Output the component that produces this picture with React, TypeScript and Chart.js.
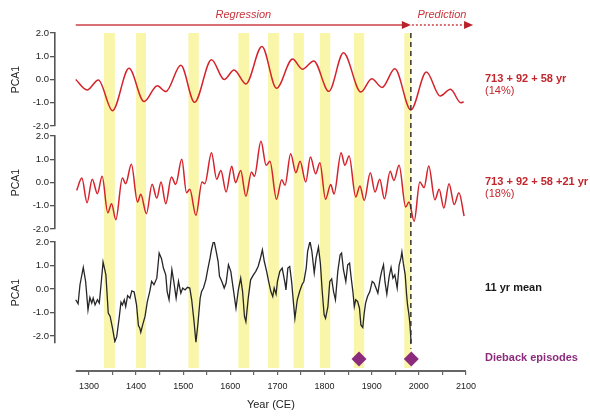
import React, { useEffect, useRef } from 'react';
import { Chart, registerables } from 'chart.js';

Chart.register(...registerables);

const FONT = "'Liberation Sans', Arial, Helvetica, sans-serif";

// ---- Data -----------------------------------------------------------------
// Panel 1: 713 + 92 + 58 yr harmonic reconstruction (extrema)
const harmonicYears = [1272, 1296, 1320, 1350, 1385, 1417, 1445, 1463, 1495, 1524, 1560, 1587, 1608, 1633, 1667, 1698, 1732, 1753, 1777, 1809, 1840, 1877, 1900, 1922, 1949, 1983, 2016, 2045, 2067, 2089, 2095];
const harmonicValues = [0.0, -0.45, -0.02, -1.34, 0.48, -0.95, -0.27, -0.52, 0.61, -0.98, 0.85, 0.0, 0.41, -0.19, 1.42, -0.38, 0.88, 0.44, 0.8, -0.51, 1.15, -0.54, 0.03, -0.34, 0.46, -1.31, 0.32, -0.71, -0.42, -1.0, -0.96];

// Panel 2: 713 + 92 + 58 + 21 yr
const harmonic21Years = [1274, 1285, 1296, 1307, 1318, 1328, 1340, 1348, 1357, 1371, 1378, 1390, 1403, 1410, 1422, 1434, 1444, 1453, 1463, 1475, 1484, 1497, 1507, 1514, 1527, 1540, 1546, 1560, 1571, 1580, 1591, 1603, 1611, 1622, 1633, 1645, 1651, 1665, 1676, 1684, 1698, 1709, 1716, 1728, 1739, 1748, 1760, 1770, 1781, 1790, 1802, 1813, 1820, 1835, 1843, 1852, 1866, 1875, 1884, 1897, 1907, 1917, 1927, 1939, 1947, 1958, 1972, 1979, 1990, 2002, 2011, 2021, 2034, 2043, 2053, 2064, 2075, 2085, 2096];
const harmonic21Values = [-0.34, 0.19, -0.87, 0.14, -0.48, 0.27, -1.3, -0.91, -1.6, 0.19, -0.05, 0.78, -0.84, -0.51, -1.34, -0.08, -0.67, 0.02, -0.91, 0.24, -0.08, 1.0, -0.44, -0.29, -1.41, 0.02, -0.05, 1.28, 0.14, 0.52, -0.41, 0.7, -0.01, 0.52, -0.59, 0.45, 0.27, 1.77, 0.74, 0.91, -0.72, 0.12, -0.12, 1.24, 0.42, 0.91, 0.02, 1.1, 0.38, 0.85, -0.72, -0.09, -0.49, 1.28, 0.74, 1.14, -0.62, -0.15, -0.77, 0.42, -0.41, 0.14, -0.7, 0.48, 0.09, 0.74, -1.05, -0.84, -1.67, 0.02, -0.22, 0.71, -0.74, -0.29, -1.1, -0.05, -0.95, -0.44, -1.44];

// Panel 3: 11 yr running mean
const meanYears = [1272, 1277, 1281, 1288, 1293, 1298, 1302, 1306, 1309, 1313, 1318, 1322, 1325, 1330, 1336, 1341, 1345, 1350, 1355, 1359, 1364, 1368, 1371, 1375, 1378, 1382, 1387, 1391, 1396, 1401, 1405, 1408, 1410, 1414, 1419, 1424, 1429, 1433, 1438, 1444, 1449, 1454, 1458, 1463, 1466, 1470, 1476, 1480, 1485, 1490, 1495, 1499, 1504, 1509, 1514, 1518, 1523, 1527, 1531, 1536, 1539, 1543, 1548, 1552, 1557, 1560, 1565, 1570, 1574, 1577, 1582, 1587, 1591, 1596, 1601, 1606, 1612, 1617, 1622, 1626, 1630, 1633, 1638, 1643, 1649, 1654, 1659, 1664, 1668, 1672, 1677, 1681, 1686, 1690, 1693, 1697, 1700, 1705, 1710, 1716, 1718, 1722, 1726, 1730, 1734, 1737, 1742, 1747, 1752, 1756, 1761, 1764, 1769, 1773, 1778, 1782, 1787, 1791, 1795, 1799, 1802, 1807, 1811, 1815, 1819, 1823, 1828, 1833, 1836, 1840, 1845, 1849, 1853, 1856, 1860, 1863, 1866, 1870, 1874, 1877, 1881, 1884, 1887, 1891, 1896, 1901, 1905, 1909, 1913, 1918, 1921, 1925, 1928, 1932, 1937, 1941, 1945, 1949, 1954, 1958, 1962, 1964, 1967, 1971, 1974, 1976, 1979, 1981, 1983, 1984];
const meanValues = [-0.46, -0.63, 0.18, 0.92, 0.32, -0.89, -0.36, -0.6, -0.39, -0.68, -0.46, -0.6, 0.04, 1.15, 0.6, -1.03, -1.17, -1.67, -2.24, -2.03, -1.25, -0.56, -0.68, -0.46, -0.75, -0.28, -0.39, -0.08, -0.13, -0.68, -1.56, -1.67, -1.84, -1.53, -1.17, -0.53, -0.11, 0.32, 0.18, 0.46, 1.53, 1.29, 0.89, 0.6, -0.11, -0.46, 0.82, 0.32, -0.39, 0.32, -0.18, 0.04, -0.04, 0.07, 0.04, -0.46, -1.39, -2.27, -1.53, -0.39, -0.11, 0.04, 0.39, 0.82, 1.32, 1.67, 2.1, 1.6, 1.18, 0.54, 0.32, 0.04, 0.25, 1.03, 0.75, 0.04, -0.82, -0.04, 0.46, -0.11, -1.17, -1.39, -0.39, 0.39, 0.6, 0.75, 0.96, 1.32, 1.67, 1.18, 0.75, 0.35, -0.11, -0.32, 0.04, -0.22, 0.32, 0.75, 0.89, 0.25, -0.04, 0.89, 0.96, 0.32, -0.6, -1.25, -0.46, -0.11, 0.18, 0.32, 0.89, 1.6, 2.03, 1.6, 0.68, 1.32, 1.78, 1.1, -0.11, -1.1, -1.25, -0.75, 0.32, 0.43, -0.11, -0.46, 0.75, 1.46, 1.53, 0.82, 0.32, 1.03, 1.1, 0.54, -0.11, -0.75, -0.46, -0.53, -0.82, -1.53, -1.64, -1.03, -0.6, -0.32, -0.11, 0.32, 0.25, 0.04, -0.18, 0.46, 0.75, 1.03, 0.32, -0.22, 0.54, 0.92, 0.46, 0.6, 0.04, 1.0, 1.32, 1.57, 1.1, 0.6, -0.25, -0.68, -1.1, -1.5, -2.1, -2.55];

// Dieback episodes
const diebackYears = [1873, 1984];

// Highlighted (yellow) periods
const bandStarts = [1332, 1400, 1511, 1617, 1680, 1734, 1790, 1862, 1969];
const bandEnds = [1355, 1421, 1533, 1640, 1703, 1756, 1812, 1884, 1983];

const regressionEndYear = 1983;
const axisStartYear = 1272;
const axisEndYear = 2100;
const predictionEndYear = 2115;

const panelTicks = [2, 1, 0, -1, -2];
const xTickYears = [1300, 1350, 1400, 1450, 1500, 1550, 1600, 1650, 1700, 1750, 1800, 1850, 1900, 1950, 2000, 2050, 2100];

const panelLabels = ['713 + 92 + 58 yr', '713 + 92 + 58 +21 yr', '11 yr mean'];
const panelShares = ['(14%)', '(18%)', ''];
const diebackLabel = 'Dieback episodes';

// ---- Helpers --------------------------------------------------------------
const toPoints = (xs: number[], ys: number[]) => xs.map((x, i) => ({ x, y: ys[i] }));

const RED = '#d4232b';
const LABEL_RED = '#c2252c';
const PURPLE = '#8c2b7d';
const TEXT = '#222';

function panelAxis(weight: number, stackWeight: number, min: number, max: number) {
  return {
    type: 'linear',
    position: 'left',
    stack: 'panels',
    stackWeight,
    weight,
    min,
    max,
    afterBuildTicks: (s: any) => {
      s.ticks = panelTicks.map((v) => ({ value: v }));
    },
    afterFit: (s: any) => {
      s.width = 55;
    },
    ticks: {
      autoSkip: false,
      font: { size: 9.5, family: FONT },
      color: TEXT,
      padding: 1,
      callback: (v: any) => Number(v).toFixed(1),
    },
    grid: { drawOnChartArea: false, drawTicks: true, tickLength: 5, color: '#555', lineWidth: 1.3 },
    border: { display: true, color: '#555', width: 1.6 },
    title: {
      display: true,
      text: 'PCA1',
      font: { size: 10.5, family: FONT },
      color: TEXT,
      padding: { top: 10, bottom: 0 },
    },
  };
}

function spacerAxis(weight: number, stackWeight: number, min = 0, max = 1) {
  return {
    type: 'linear',
    position: 'left',
    stack: 'panels',
    stackWeight,
    weight,
    min,
    max,
    display: false,
    afterFit: (s: any) => {
      s.width = 55;
    },
  };
}

function arrowHead(ctx: CanvasRenderingContext2D, tipX: number, y: number) {
  ctx.beginPath();
  ctx.moveTo(tipX, y);
  ctx.lineTo(tipX - 9, y - 4);
  ctx.lineTo(tipX - 9, y + 4);
  ctx.closePath();
  ctx.fill();
}

const decorPlugin = {
  id: 'decor',
  beforeDatasetsDraw(chart: any) {
    const { ctx, chartArea, scales } = chart;
    const x = scales.x;
    ctx.save();
    ctx.fillStyle = '#f9f6aa';
    bandStarts.forEach((a, i) => {
      const x0 = x.getPixelForValue(a);
      const x1 = x.getPixelForValue(bandEnds[i]);
      ctx.fillRect(x0, chartArea.top, x1 - x0, chartArea.bottom - 3 - chartArea.top);
    });
    ctx.restore();
  },
  afterDatasetsDraw(chart: any) {
    const { ctx, chartArea, scales } = chart;
    const x = scales.x;
    const ys = [scales.y1, scales.y2, scales.y3];
    ctx.save();

    // dashed vertical line at end of regression period
    const xr = x.getPixelForValue(regressionEndYear);
    ctx.strokeStyle = '#333';
    ctx.lineWidth = 1.5;
    ctx.setLineDash([5, 4]);
    ctx.beginPath();
    ctx.moveTo(xr, chartArea.top);
    ctx.lineTo(xr, scales.y3.getPixelForValue(meanValues[meanValues.length - 1]));
    ctx.stroke();
    ctx.setLineDash([]);

    // x axis line
    const xa = x.getPixelForValue(axisStartYear);
    const xb = x.getPixelForValue(axisEndYear);
    ctx.strokeStyle = '#666';
    ctx.lineWidth = 2;
    ctx.beginPath();
    ctx.moveTo(xa, chartArea.bottom);
    ctx.lineTo(xb, chartArea.bottom);
    ctx.stroke();

    // x axis title
    ctx.fillStyle = TEXT;
    ctx.font = `11px ${FONT}`;
    ctx.textAlign = 'center';
    ctx.textBaseline = 'middle';
    ctx.fillText('Year (CE)', (xa + xb) / 2, 405);

    // regression / prediction arrows
    const arrowY = 25;
    const xp = x.getPixelForValue(predictionEndYear);
    ctx.strokeStyle = '#cc4147';
    ctx.fillStyle = '#b8222a';
    ctx.lineWidth = 1.3;
    ctx.beginPath();
    ctx.moveTo(xa, arrowY);
    ctx.lineTo(xr - 8, arrowY);
    ctx.stroke();
    arrowHead(ctx, xr, arrowY);
    ctx.setLineDash([2, 2]);
    ctx.beginPath();
    ctx.moveTo(xr + 1, arrowY);
    ctx.lineTo(xp - 8, arrowY);
    ctx.stroke();
    ctx.setLineDash([]);
    arrowHead(ctx, xp, arrowY);

    ctx.font = `italic 11px ${FONT}`;
    ctx.fillStyle = '#c8353c';
    ctx.fillText('Regression', (xa + xr) / 2, 15);
    ctx.fillText('Prediction', (xr + xp) / 2, 15);

    // right side labels
    ctx.textAlign = 'left';
    const lx = 485;
    ys.forEach((s: any, i: number) => {
      const y0 = s.getPixelForValue(0);
      ctx.fillStyle = i < 2 ? LABEL_RED : '#1a1a1a';
      ctx.font = `bold 11px ${FONT}`;
      ctx.fillText(panelLabels[i], lx, y0 - 1);
      if (panelShares[i]) {
        ctx.font = `11px ${FONT}`;
        ctx.fillText(panelShares[i], lx, y0 + 11.5);
      }
    });
    ctx.fillStyle = PURPLE;
    ctx.font = `bold 11px ${FONT}`;
    ctx.fillText(diebackLabel, lx, scales.yd.getPixelForValue(0) - 1);

    ctx.restore();
  },
};

export default function App() {
  const ref = useRef<HTMLCanvasElement>(null);

  useEffect(() => {
    document.body.style.margin = '0';
    if (!ref.current) return;
    const chart = new Chart(ref.current, {
      type: 'line',
      data: {
        datasets: [
          {
            label: panelLabels[0],
            data: toPoints(harmonicYears, harmonicValues),
            yAxisID: 'y1',
            borderColor: RED,
            borderWidth: 1.5,
            pointRadius: 0,
            cubicInterpolationMode: 'monotone',
            fill: false,
          },
          {
            label: panelLabels[1],
            data: toPoints(harmonic21Years, harmonic21Values),
            yAxisID: 'y2',
            borderColor: RED,
            borderWidth: 1.5,
            pointRadius: 0,
            cubicInterpolationMode: 'monotone',
            fill: false,
          },
          {
            label: panelLabels[2],
            data: toPoints(meanYears, meanValues),
            yAxisID: 'y3',
            borderColor: '#262626',
            borderWidth: 1.3,
            pointRadius: 0,
            tension: 0,
            fill: false,
          },
          {
            label: diebackLabel,
            data: diebackYears.map((x) => ({ x, y: 0 })),
            yAxisID: 'yd',
            showLine: false,
            pointStyle: 'rectRot',
            pointRadius: 7.5,
            pointBackgroundColor: PURPLE,
            pointBorderColor: PURPLE,
            pointBorderWidth: 0,
          },
        ] as any,
      },
      options: {
        responsive: false,
        maintainAspectRatio: false,
        animation: false,
        devicePixelRatio: 1,
        layout: { padding: { top: 33, left: 0, right: 124, bottom: 0 } },
        plugins: {
          legend: { display: false },
          tooltip: { enabled: false },
        },
        scales: {
          x: {
            type: 'linear',
            position: 'bottom',
            min: 1228,
            max: axisEndYear,
            afterBuildTicks: (s: any) => {
              s.ticks = xTickYears.map((v) => ({ value: v }));
            },
            afterFit: (s: any) => {
              s.height = 45;
            },
            ticks: {
              autoSkip: false,
              maxRotation: 0,
              font: { size: 9, family: FONT },
              color: TEXT,
              padding: 6,
              callback: (v: any) => (Number(v) % 100 === 0 ? String(v) : ''),
            },
            grid: { drawOnChartArea: false, drawTicks: true, tickLength: 4, color: '#666', lineWidth: 1.2 },
            border: { display: false },
          },
          y1: panelAxis(6, 93, -2, 2),
          gap1: spacerAxis(5, 10),
          y2: panelAxis(4, 93, -2, 2),
          gap2: spacerAxis(3, 13),
          y3: panelAxis(2, 101, -2.3, 2),
          yd: spacerAxis(1, 28, -0.75, 1),
        } as any,
      },
      plugins: [decorPlugin],
    });
    return () => chart.destroy();
  }, []);

  return (
    <canvas
      ref={ref}
      width={590}
      height={416}
      style={{ display: 'block', width: 590, height: 416 }}
    />
  );
}
